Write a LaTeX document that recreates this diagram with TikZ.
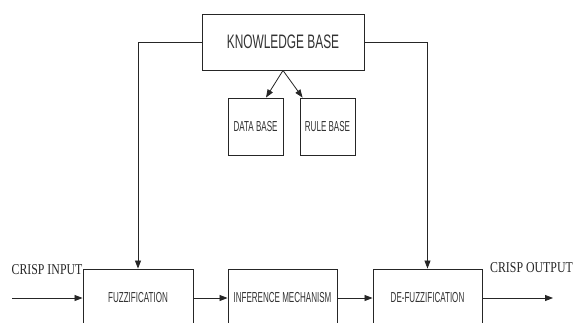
\documentclass[tikz,border=0pt]{standalone}
\usepackage{fontspec}
\usetikzlibrary{arrows.meta,calc}
\newfontfamily\boxfont{Liberation Sans}[FakeStretch=0.555]
\newfontfamily\kbfont{Liberation Sans}[FakeStretch=0.61]
\newfontfamily\lblfont{Liberation Serif}[FakeStretch=0.79]
\begin{document}
\begin{tikzpicture}[x=1pt,y=-1pt,
  blk/.style={draw=black!85,line width=0.9pt,inner sep=0pt,text=black!80,font=\boxfont\fontsize{14.5}{16}\selectfont},
  arr/.style={draw=black!85,line width=0.8pt,-{Triangle[length=8pt,width=6pt]}},
  lbl/.style={font=\lblfont\fontsize{15}{17}\selectfont,inner sep=0pt,text=black!85}]
\useasboundingbox[fill=white] (0,0) rectangle (576,322);
\clip (0,0) rectangle (576,322);
\node[blk,minimum width=162pt,minimum height=56pt,font=\kbfont\fontsize{19.5}{21}\selectfont] (kb) at (283,42) {KNOWLEDGE BASE};
\node[blk,minimum width=55pt,minimum height=57pt] (db) at (255.5,126.5) {DATA BASE};
\node[blk,minimum width=55pt,minimum height=57pt] (rb) at (327.5,126.5) {RULE BASE};
\node[blk,minimum width=110pt,minimum height=58pt] (fz) at (138,298) {FUZZIFICATION};
\node[blk,minimum width=109pt,minimum height=58pt] (im) at (282.5,298) {INFERENCE MECHANISM};
\node[blk,minimum width=109pt,minimum height=58pt] (dz) at (427.5,298) {DE-FUZZIFICATION};
\node[lbl] (ci) at (47,270) {CRISP INPUT};
\node[lbl] (co) at (531.5,268) {CRISP OUTPUT};
\coordinate (in) at (12,298);
\coordinate (out) at (553,298);
\draw[arr] (kb.south) -- ([xshift=10.5pt]db.north);
\draw[arr] (kb.south) -- ([xshift=3pt]rb.north west);
\draw[arr] (kb.west) -| (fz.north);
\draw[arr] (kb.east) -| (dz.north);
\draw[arr] (in) -- (fz.west);
\draw[arr] (fz.east) -- (im.west);
\draw[arr] (im.east) -- (dz.west);
\draw[arr] (dz.east) -- (out);
\end{tikzpicture}
\end{document}
